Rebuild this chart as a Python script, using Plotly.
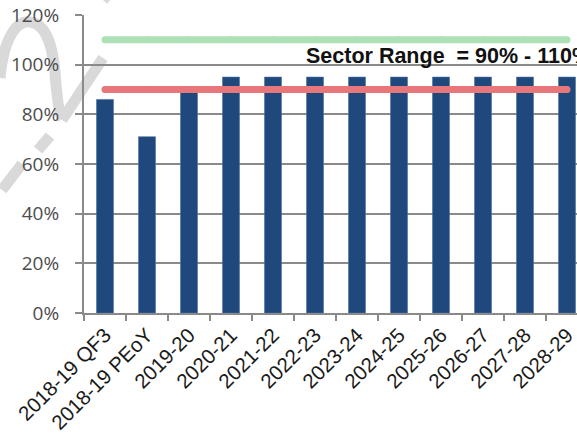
import plotly.graph_objects as go

# Funding ratio by year, with the sector's acceptable range
categories = ["2018-19 QF3", "2018-19 PEoY", "2019-20", "2020-21", "2021-22",
              "2022-23", "2023-24", "2024-25", "2025-26", "2026-27", "2027-28",
              "2028-29"]
ratio = [0.86, 0.71, 0.89, 0.95, 0.95, 0.95, 0.95, 0.95, 0.95, 0.95, 0.95, 0.95]
range_low = [0.90] * len(categories)
range_high = [1.10] * len(categories)
y_ticks = [0, 0.2, 0.4, 0.6, 0.8, 1.0, 1.2]
y_tick_labels = ["0%", "20%", "40%", "60%", "80%", "100%", "120%"]

W, H = 577, 439
L, R, T, B = 84, 0, 15, 126
plot_w, plot_h = W - L - R, H - T - B
cat_px = 42.0  # width of one category slot


def to_paper(px, py):
    return (px - L) / plot_w, (H - B - py) / plot_h


def path(points, cmd):
    out = []
    for c, pts in zip(cmd, points):
        coords = " ".join("%.4f,%.4f" % to_paper(*p) for p in pts)
        out.append(c + " " + coords)
    return " ".join(out)


fig = go.Figure()

fig.add_trace(go.Bar(
    x=categories, y=ratio,
    marker=dict(color="#1F497D", line=dict(color="#4f72a3", width=0.6)),
    showlegend=False,
))

for vals, col in [(range_high, "#aee0b5"), (range_low, "#e8777b")]:
    fig.add_trace(go.Scatter(
        x=categories, y=vals, mode="lines+markers",
        line=dict(color=col, width=7),
        marker=dict(color=col, size=7, line=dict(width=0)),
        showlegend=False,
    ))

# faint background watermark strokes
wm = "#d9d9d9"
strokes = [
    path([[(0, 78)], [(4, 35), (18, 20), (30, 22)],
          [(48, 24), (54, 50), (56, 85)], [(58, 105), (60, 116), (62, 118)]], "MCCC"),
    path([[(103, 58)], [(62, 120)]], "ML"),
    path([[(50, 136)], [(38, 150)]], "ML"),
    path([[(22, 164)], [(2, 190)]], "ML"),
    path([[(103, 0)], [(110, -8)]], "ML"),
]
layout_shapes = [dict(type="path", path=p, xref="paper", yref="paper",
                      line=dict(color=wm, width=11), layer="below") for p in strokes]

fig.update_layout(
    width=W, height=H,
    margin=dict(l=L, r=R, t=T, b=B, pad=0),
    paper_bgcolor="white", plot_bgcolor="white",
    bargap=1 - 17 / cat_px,
    shapes=layout_shapes,
    xaxis=dict(
        type="category",
        range=[-0.5, -0.5 + plot_w / cat_px],
        tickangle=-45,
        tickfont=dict(family="Liberation Sans, Arial", size=20.5, color="#1a1a1a"),
        showline=True, linecolor="#8a8a8a", linewidth=2,
        ticks="outside", ticklen=6, tickwidth=2, tickcolor="#8a8a8a",
        tickson="boundaries",
        showgrid=False, zeroline=False,
    ),
    yaxis=dict(
        range=[0, 1.2],
        tickvals=y_ticks, ticktext=y_tick_labels,
        tickfont=dict(family="Open Sans", size=19, color="#4d4d4d"),
        showline=True, linecolor="#8a8a8a", linewidth=2,
        ticks="outside", ticklen=7, tickwidth=2, tickcolor="#8a8a8a",
        showgrid=True, gridcolor="#8a8a8a", gridwidth=2,
        zeroline=False, ticklabelstandoff=12,
    ),
    annotations=[dict(
        x=(304 - L) / plot_w, xref="paper", y=1.035, yref="y",
        xanchor="left", yanchor="middle", showarrow=False,
        text="<b>Sector Range\u00a0 = 90% - 110%</b>",
        font=dict(family="Liberation Sans, Arial", size=21.5, color="#111111"),
    )],
)

fig.write_html("out.html")
